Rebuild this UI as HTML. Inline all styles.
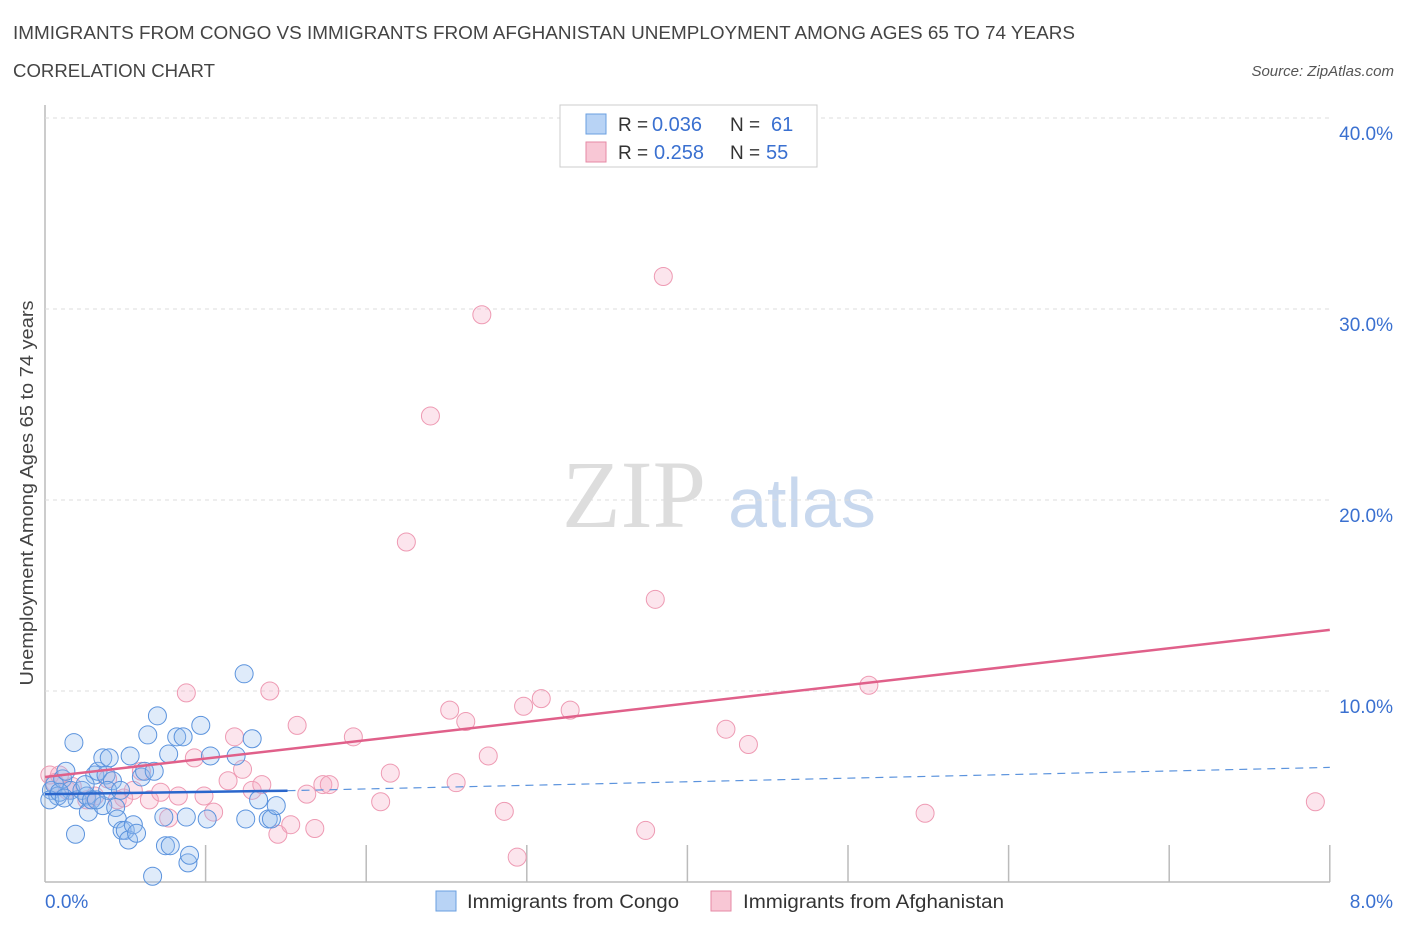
<!DOCTYPE html>
<html><head><meta charset="utf-8"><style>
body{margin:0;background:#fff;font-family:"Liberation Sans",sans-serif}
</style></head><body>
<svg id="c" width="1406" height="930" xmlns="http://www.w3.org/2000/svg" style="font-family:'Liberation Sans',sans-serif">
<text x="13" y="39" font-size="18" fill="#444" textLength="1062" lengthAdjust="spacingAndGlyphs">IMMIGRANTS FROM CONGO VS IMMIGRANTS FROM AFGHANISTAN UNEMPLOYMENT AMONG AGES 65 TO 74 YEARS</text>
<text x="13" y="77" font-size="18" fill="#444" textLength="202" lengthAdjust="spacingAndGlyphs">CORRELATION CHART</text>
<text x="1394" y="76" font-size="15" fill="#555" font-style="italic" text-anchor="end">Source: ZipAtlas.com</text>
<text x="634" y="527" font-size="96" fill="#ddd" font-family="Liberation Serif,serif" text-anchor="middle">ZIP</text>
<text x="802" y="527" font-size="70" fill="#c8d8ee" text-anchor="middle">atlas</text>
<text transform="translate(33,493) rotate(-90)" font-size="18" fill="#444" text-anchor="middle" textLength="385" lengthAdjust="spacingAndGlyphs">Unemployment Among Ages 65 to 74 years</text>
<g id="grid"></g><g id="pts"></g><g id="lines"></g>
<g>
<rect x="560" y="105" width="257" height="62" fill="#fff" stroke="#ccc"/>
<rect x="586" y="114" width="20" height="20" fill="#b8d3f5" stroke="#6a9fe0"/>
<rect x="586" y="142" width="20" height="20" fill="#f8c7d5" stroke="#e68aa5"/>
<text x="618" y="131" font-size="19" fill="#333">R =</text>
<text x="652" y="131" font-size="20" fill="#3a70d0">0.036</text>
<text x="730" y="131" font-size="19" fill="#333">N =</text>
<text x="771" y="131" font-size="20" fill="#3a70d0">61</text>
<text x="618" y="159" font-size="19" fill="#333">R =</text>
<text x="654" y="159" font-size="20" fill="#3a70d0">0.258</text>
<text x="730" y="159" font-size="19" fill="#333">N =</text>
<text x="766" y="159" font-size="20" fill="#3a70d0">55</text>
</g>
<g>
<rect x="436" y="891" width="20" height="20" fill="#b8d3f5" stroke="#6a9fe0"/>
<text x="467" y="908" font-size="19" fill="#333" textLength="212" lengthAdjust="spacingAndGlyphs">Immigrants from Congo</text>
<rect x="711" y="891" width="20" height="20" fill="#f8c7d5" stroke="#e68aa5"/>
<text x="743" y="908" font-size="19" fill="#333" textLength="261" lengthAdjust="spacingAndGlyphs">Immigrants from Afghanistan</text>
</g>
</svg>
<script>
const xTicks=[0,1,2,3,4,5,6,7,8];
const yTicks=[10,20,30,40];
const congoX=[0.04,0.06,0.08,0.11,0.13,0.16,0.18,0.2,0.23,0.26,0.27,0.29,0.31,0.33,0.36,0.36,0.38,0.4,0.42,0.44,0.45,0.48,0.5,0.52,0.53,0.55,0.57,0.6,0.62,0.64,0.68,0.7,0.74,0.75,0.77,0.78,0.82,0.86,0.88,0.89,0.9,0.97,1.01,1.03,1.19,1.24,1.25,1.29,1.33,1.39,1.41,1.44,0.67,0.19,0.03,0.09,0.12,0.39,0.32,0.25,0.47];
const congoY=[4.8,5.1,4.5,5.4,5.8,4.8,7.3,4.3,4.8,4.5,3.66,4.3,5.6,5.8,4.0,6.5,5.6,6.5,5.3,3.9,3.3,2.7,2.7,2.2,6.6,3.0,2.55,5.5,5.8,7.7,5.8,8.7,3.4,1.9,6.7,1.9,7.6,7.6,3.4,1.0,1.4,8.2,3.3,6.6,6.6,10.9,3.3,7.5,4.3,3.3,3.3,4.0,0.3,2.5,4.3,4.7,4.4,4.8,4.3,5.1,4.8];
const afgX=[0.03,0.06,0.09,0.14,0.17,0.26,0.31,0.39,0.45,0.49,0.55,0.6,0.65,0.72,0.77,0.83,0.88,0.93,0.99,1.05,1.14,1.18,1.23,1.29,1.35,1.4,1.45,1.53,1.57,1.63,1.68,1.73,1.77,1.92,2.09,2.15,2.25,2.4,2.52,2.56,2.62,2.72,2.76,2.86,2.94,2.98,3.09,3.27,3.74,3.8,3.85,4.24,4.38,5.13,5.48,7.91];
const afgY=[5.6,5.2,5.6,4.8,5.0,4.3,4.5,5.4,4.3,4.4,4.8,5.8,4.3,4.7,3.35,4.5,9.9,6.5,4.5,3.66,5.3,7.6,5.9,4.8,5.1,10.0,2.5,3.0,8.2,4.6,2.8,5.1,5.1,7.6,4.2,5.7,17.8,24.4,9.0,5.2,8.4,29.7,6.6,3.7,1.3,9.2,9.6,9.0,2.7,14.8,31.7,8.0,7.2,10.3,3.6,4.2];
const X=v=>45+v*160.6, Y=v=>882-v*19.1;
const ns="http://www.w3.org/2000/svg";
function mk(t,a,p){const e=document.createElementNS(ns,t);for(const k in a)e.setAttribute(k,a[k]);p.appendChild(e);return e;}
const g=document.getElementById('grid');
let ax=mk('line',{x1:45,y1:105,x2:45,y2:882,stroke:'#bbb','stroke-width':1.5},g);


let bx=mk('line',{x1:45,y1:882,x2:1330,y2:882,stroke:'#bbb','stroke-width':1.5},g);


yTicks.forEach(t=>{
 let l=mk('line',{x1:45,y1:Y(t),x2:1330,y2:Y(t),stroke:'#ddd','stroke-dasharray':'4,4'},g);
 
 
 let tx=mk('text',{x:1393,y:Y(t)+22,'font-size':19,fill:'#3a70d0','text-anchor':'end'},g);tx.textContent=t.toFixed(1)+'%';
 
 
});
xTicks.forEach(t=>{if(t>0){let l=mk('line',{x1:X(t),y1:845,x2:X(t),y2:882,stroke:'#bbb','stroke-width':1.5},g);
 
 }});
let x0=mk('text',{x:45,y:908,'font-size':19,fill:'#3a70d0'},g);x0.textContent='0.0%';


let x8=mk('text',{x:1393,y:908,'font-size':19,fill:'#3a70d0','text-anchor':'end'},g);x8.textContent='8.0%';


const p=document.getElementById('pts');
afgX.forEach((v,i)=>{let c=mk('circle',{cx:X(v),cy:Y(afgY[i]),r:9,fill:'rgba(245,170,195,0.3)',stroke:'#ee9ab3','stroke-width':1},p);
 
 });
congoX.forEach((v,i)=>{let c=mk('circle',{cx:X(v),cy:Y(congoY[i]),r:9,fill:'rgba(150,190,240,0.3)',stroke:'#5b93dd','stroke-width':1},p);
 
 });
const L=document.getElementById('lines');
let t1=mk('line',{x1:X(0),y1:Y(5.5),x2:X(8),y2:Y(13.2),stroke:'#e0608a','stroke-width':2.5},L);


let t2=mk('line',{x1:X(0),y1:Y(4.6),x2:X(1.51),y2:Y(4.78),stroke:'#2a66cc','stroke-width':2.5},L);


let t3=mk('line',{x1:X(1.51),y1:Y(4.78),x2:X(8),y2:Y(6.0),stroke:'#5b93dd','stroke-width':1.2,'stroke-dasharray':'8,6'},L);


</script>
</body></html>
